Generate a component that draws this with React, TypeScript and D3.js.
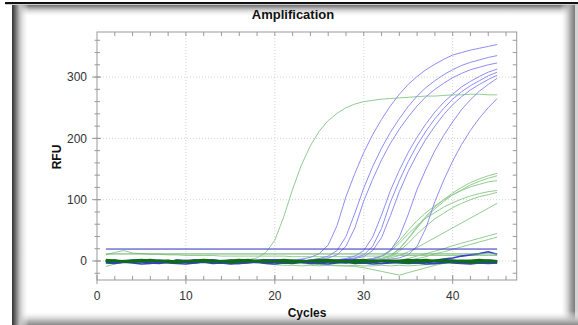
import React from 'react';
import * as d3 from 'd3';

const W = 578;
const H = 325;

const title = 'Amplification';
const xLabel = 'Cycles';
const yLabel = 'RFU';
const xTickLabels = [0, 10, 20, 30, 40];
const yTickLabels = [0, 100, 200, 300];
const xDomain = [0, 47.2];
const yDomain = [-31, 373.5];

const cycles = d3.range(1, 46);

// Blue (channel 1) amplification curves, cycles 1..45
const blue1 = [1,-1,0,2,1,-1,0,1,-2,0,1,0,-1,1,2,0,-1,0,1,-1,0, 2,3,6,12,26,58,105,143,177,206,231,253,272,288,301,312,321,329,336,340,344,347,350,353];
const blue2 = [0,1,-1,-2,0,1,0,-1,1,2,0,-1,0,1,-1,0,2,1,-1,0,1,0,-1, 2,4,8,17,40,78,119,154,184,210,232,252,269,283,294,304,312,319,324,328,332,335];
const blue3 = [-1,0,1,0,-2,-1,1,0,-1,1,0,2,0,-1,1,0,-1,-2,0,1,0,-1,0, 2,3,5,10,24,54,98,133,165,192,215,235,253,268,280,290,299,306,312,316,320,323];
const blue4 = [1,0,-1,1,0,-1,-2,0,1,0,-1,1,2,0,-1,0,1,-1,0,1,2,0,-1,1,0,-1, 2,4,8,17,39,75,115,148,177,202,224,243,259,272,284,293,301,308,313];
const blue5 = [0,-1,1,2,0,-1,0,1,-1,0,1,-2,0,1,0,-1,1,0,-1,2,0,1,-1,0,1,0, 2,3,5,10,24,53,96,131,162,189,212,232,249,264,276,286,294,302,308];
const blue6 = [-1,1,0,-1,0,2,1,-1,0,1,0,-1,-2,0,1,1,0,-1,0,1,-1,0,2,0,-1,1,0, 2,4,7,17,38,74,113,146,174,199,220,239,255,268,279,288,296,303];
const blue7 = [0,1,-1,0,1,-1,2,0,-1,0,1,0,-2,1,0,-1,1,0,2,-1,0,1,-1,0,1,-1,0,1,0, 2,4,8,17,39,76,117,150,180,205,227,247,263,277,288,298];
const blue8 = [1,0,-1,0,2,1,-1,0,1,-1,0,1,0,-2,0,1,-1,0,1,0,-1,1,2,0,-1,0,1,-1,0,1,0, 2,3,5,10,24,54,97,132,163,190,213,233,250,265];

// Green (channel 2) curves
const green1 = [0,1,-1,0,1,0,-1,1,0,-1,0,1,0,-1,1,0, 2,5,14,34,72,117,157,188,212,229,241,250,256,260,262,264,265,266,267,268,269,269,270,271,271,272,272,271,271];
const greenL1 = [0,1,-1,0,1,0,-1,1,0,-1,1,0,-1,0,1,-1,0,1,0,-1,0,1,-1,0,1,0,-1,0,1,0, 2,4,9,20,37,56,73,88,100,111,120,128,134,139,143];
const greenL2 = [1,0,-1,1,0,-1,0,1,-1,0,0,-1,1,0,-1,1,0,-1,0,1,-1,0,1,0,-1,1,0,-1,0,1, 2,4,9,19,36,54,71,85,97,108,116,124,130,135,139];
const greenL3 = [-1,0,1,0,-1,1,0,-1,0,1,-1,0,1,-1,0,1,0,-1,1,0,-1,0,1,0,-1,0,1,-1,0, 2,4,8,18,33,50,66,79,90,100,108,115,121,125,129,131];
const greenL4 = [0,-1,0,1,-1,0,1,0,-1,1,0,-1,0,1,0,-1,1,0,-1,0,1,-1,0,1,0,-1,0,1,0, 2,3,7,16,29,44,58,70,79,88,95,101,106,110,113,115];
const greenL5 = [1,-1,0,1,0,-1,1,0,-1,0,1,0,-1,1,0,-1,0,1,-1,0,1,0,-1,0,1,-1,0,1,0,-1, 2,3,7,16,29,44,57,69,78,87,94,100,105,108,112];
const greenL6 = [0,1,0,-1,1,0,-1,0,1,-1,0,1,0,-1,0,1,-1,0,1,0,-1,0,1,-1,0,1,0,-1,0,1,-1,0, 5,9,15,22,30,38,46,54,62,70,78,86,94];
const greenL7 = [1,0,-1,0,1,-1,0,1,0,-1,0,1,-1,0,1,0,-1,0,1,-1,0,1,0,-1,1,0,-1,0,1,0,-1,1,0,1, 4,8,12,16,20,25,29,33,37,41,45];
const greenL8 = [0,1,-1,0,1,0,-1,1,0,-1,1,0,-1,0,1,-1,0,1,0,0,-1,1,0,-1,0,1,0,-1,1,0,0,1,-1,0,1, 4,7,12,15,19,23,27,31,35,39];
const greenDip1 = [0,-1,1,0,-1,0,1,-1,0,0,-1,1,0,-1,0,1,0,-1,-1,-2, -2,-3,-4,-5,-6,-7,-8,-8,-9,-11,-14,-17,-20,-23,-19,-15,-11,-7,-4,-2,-1,0,-1,0,-1];
const greenDip2 = [1,0,-1,0,1,-1,0,1,0,-1,0,1,0,-1,0,-1,-2, -3,-4,-6,-7,-7,-8,-7,-8,-7,-7,-8,-7,-8,-8,-7,-8,-7,-8,-7,-6,-5,-3,-2,-1,0,1,0,-1];
const greenLow1 = [-9,-5,-2,-1,0,1,0,-1,0,1,0,-1,1,0,-1,0,1,0,-1,0,1,0,-1,0,1,0,-1,1,0,-1,0,1,0,-1,0,1,0,-1,1,0,0,1,-1,0,1];
const greenLow2 = [10,14,17,13,12,11,11,10,10,9,9,9,9,8,8,8,8,8,8,8,8,7,7,7,7,7,7,7,8,8,8,8,8,9,9,9,9,9,9,9,9,9,9,9,9];

// Baseline (negative) wells: blue and dark green
const bandBlue1 = [-1,-3,-2,0,-1,-3,-4,-2,-1,-2,-3,-1,0,-2,-3,-4,-2,-1,-3,-2,0,-1,-2,-4,-3,-1,-2,-3,-1,0,-2,-4,-3,-2,-1,-3,-2,-4,-3,-1,-2,-3,-1,-2,-3];
const bandBlue2 = [1,0,-1,1,2,0,-2,-1,1,0,-1,1,2,0,-1,-2,0,1,2,1,-1,0,1,-1,-2,0,1,2,0,-1,1,0,-2,-1,1,2,0,-1,0,1,-1,-2,0,1,0];
const bandBlue3 = [-3,-4,-2,-3,-5,-4,-2,-3,-4,-5,-3,-2,-4,-3,-5,-4,-3,-2,-4,-5,-3,-4,-2,-3,-4,-5,-3,-2,-4,-3,-5,-4,-2,-3,-4,-3,-5,-4,-2,-3,-4,-5,-3,-4,-3];
const bandBlue4 = [0,1,-1,0,1,2,0,-1,1,0,2,1,0,-1,1,0,-1,0,1,2,1,0,-1,0,1,0,-1,1,2,0,1,0,-1,0,1,0,-1,1,3,5,8,10,12,15,11];
const bandGreen1 = [0,1,-1,0,1,2,0,-1,1,0,-1,1,0,-1,0,1,2,0,-1,0,1,0,-1,1,2,1,0,-1,0,1,-1,0,1,0,-1,1,2,0,-1,0,1,0,-1,1,0];
const bandGreen2 = [-2,-1,0,-2,-1,0,-1,-2,-3,-1,0,-1,-2,-1,-3,-2,0,-1,-2,-1,-2,-3,-1,0,-2,-1,-2,-1,-3,-2,-1,0,-1,-2,-3,-1,-2,0,-1,-2,-1,-3,-2,-1,-2];
const bandGreen3 = [2,1,0,1,2,1,0,1,-1,0,1,2,1,0,1,2,1,0,1,0,2,1,0,-1,1,2,1,0,1,2,0,1,0,1,2,1,0,1,2,1,0,1,2,1,0];
const bandGreen4 = [-1,0,-2,-1,0,-1,1,0,-1,-2,-1,0,-1,0,-2,-1,-1,0,1,-1,-2,-1,0,-1,-1,0,-2,-1,0,-1,-2,0,-1,-1,0,-2,-1,0,-1,-1,-2,0,-1,0,-1];

const thresholdBlue = 19.5;
const thresholdGreen = 11.5;

const blueCurves = [blue1, blue2, blue3, blue4, blue5, blue6, blue7, blue8];
const greenCurves = [green1, greenL1, greenL2, greenL3, greenL4, greenL5, greenL6, greenL7, greenL8, greenDip1, greenDip2, greenLow1, greenLow2];
const bandBlue = [bandBlue1, bandBlue2, bandBlue3, bandBlue4];
const bandGreen = [bandGreen1, bandGreen2, bandGreen3, bandGreen4];

const FONT = "'Liberation Sans', Arial, Helvetica, sans-serif";

export default function App() {
  const x = d3.scaleLinear().domain(xDomain).range([97, 516.7]);
  const y = d3.scaleLinear().domain(yDomain).range([280, 32]);
  const line = d3.line<number>().x((_, i) => x(cycles[i])).y((d) => y(d));

  const x0 = x.range()[0], x1 = x.range()[1];
  const yTop = y.range()[1], yBot = y.range()[0];
  const xMinor = d3.range(2, 47, 2);
  const yMinor = d3.range(-20, 371, 20);
  const axisColor = '#9a9a9a';

  return (
    <svg width={W} height={H} viewBox={`0 0 ${W} ${H}`} style={{ position: 'absolute', left: 0, top: 0, background: '#fff' }}>
      <defs>
        <linearGradient id="gl" x1="0" x2="1" y1="0" y2="0">
          <stop offset="0" stopColor="#333333" />
          <stop offset="0.15" stopColor="#5e5e5e" />
          <stop offset="0.45" stopColor="#c0c0c0" />
          <stop offset="1" stopColor="#ffffff" stopOpacity="0" />
        </linearGradient>
        <linearGradient id="gt" x1="0" x2="0" y1="0" y2="1">
          <stop offset="0" stopColor="#6e6e6e" />
          <stop offset="0.35" stopColor="#c0c0c0" />
          <stop offset="1" stopColor="#ffffff" stopOpacity="0" />
        </linearGradient>
        <linearGradient id="gr" x1="1" x2="0" y1="0" y2="0">
          <stop offset="0" stopColor="#7a7a7a" />
          <stop offset="0.3" stopColor="#a8a8a8" />
          <stop offset="1" stopColor="#ffffff" stopOpacity="0" />
        </linearGradient>
        <linearGradient id="gb" x1="0" x2="0" y1="1" y2="0">
          <stop offset="0" stopColor="#8a8a8a" />
          <stop offset="0.3" stopColor="#b8b8b8" />
          <stop offset="1" stopColor="#ffffff" stopOpacity="0" />
        </linearGradient>
      </defs>
      <rect x={0} y={0} width={W} height={H} fill="#fff" />
      {/* frame */}
      <rect x={5} y={2} width={573} height={2.2} fill="#111" />
      <rect x={12} y={5} width={566} height={12} fill="url(#gt)" />
      <rect x={560} y={5} width={15} height={320} fill="url(#gr)" />
      <rect x={575} y={5} width={3} height={320} fill="#d4d4d4" />
      <rect x={12} y={311} width={566} height={14} fill="url(#gb)" />
      <rect x={12} y={5} width={17} height={320} fill="url(#gl)" />

      {/* title */}
      <text x={293} y={19} textAnchor="middle" fontFamily={FONT} fontSize={13} fontWeight="bold" fill="#111">{title}</text>

      {/* grid */}
      {xTickLabels.filter((t) => t !== 0).map((t) => (
        <line key={'gx' + t} x1={x(t)} x2={x(t)} y1={yTop} y2={yBot} stroke="#d4d4d4" strokeDasharray="1,2" />
      ))}
      {yTickLabels.map((t) => (
        <line key={'gy' + t} x1={x0} x2={x1} y1={y(t)} y2={y(t)} stroke="#d4d4d4" strokeDasharray="1,2" />
      ))}

      {/* curves */}
      {greenCurves.map((c, i) => (
        <path key={'g' + i} d={line(c) || ''} fill="none" stroke="#92cc92" strokeWidth={1} />
      ))}
      {blueCurves.map((c, i) => (
        <path key={'b' + i} d={line(c) || ''} fill="none" stroke="#8e8ef4" strokeWidth={1} />
      ))}
      {bandBlue.map((c, i) => (
        <path key={'bb' + i} d={line(c) || ''} fill="none" stroke="#3a3ad8" strokeWidth={1.6} />
      ))}
      {bandGreen.map((c, i) => (
        <path key={'bg' + i} d={line(c) || ''} fill="none" stroke="#0e6e16" strokeWidth={1.8} />
      ))}
      <line x1={x(1)} x2={x(45)} y1={y(thresholdBlue)} y2={y(thresholdBlue)} stroke="#2c2cc4" strokeWidth={1} />
      <line x1={x(1)} x2={x(45)} y1={y(thresholdGreen)} y2={y(thresholdGreen)} stroke="#6aae6a" strokeWidth={1} />

      {/* axes frame */}
      <rect x={x0} y={yTop} width={x1 - x0} height={yBot - yTop} fill="none" stroke={axisColor} strokeWidth={1} />
      {xMinor.map((t) => (
        <g key={'xm' + t}>
          <line x1={x(t)} x2={x(t)} y1={yBot} y2={yBot - 4} stroke={axisColor} />
          <line x1={x(t)} x2={x(t)} y1={yTop} y2={yTop + 4} stroke={axisColor} />
        </g>
      ))}
      {xTickLabels.map((t) => (
        <line key={'xM' + t} x1={x(t)} x2={x(t)} y1={yBot - 5} y2={yBot + 4} stroke={axisColor} />
      ))}
      {yMinor.map((t) => (
        <g key={'ym' + t}>
          <line x1={x0 - 2.5} x2={x0 + 3} y1={y(t)} y2={y(t)} stroke={axisColor} />
          <line x1={x1} x2={x1 - 4} y1={y(t)} y2={y(t)} stroke={axisColor} />
        </g>
      ))}
      {yTickLabels.map((t) => (
        <line key={'yM' + t} x1={x0 - 5} x2={x0 + 4} y1={y(t)} y2={y(t)} stroke={axisColor} />
      ))}

      {/* tick labels */}
      {xTickLabels.map((t) => (
        <text key={'xl' + t} x={x(t)} y={299.5} textAnchor="middle" fontFamily={FONT} fontSize={12} fill="#333">{t}</text>
      ))}
      {yTickLabels.map((t) => (
        <text key={'yl' + t} x={87} y={y(t) + 4.3} textAnchor="end" fontFamily={FONT} fontSize={12} fill="#333">{t}</text>
      ))}

      {/* axis titles */}
      <text x={307} y={317} textAnchor="middle" fontFamily={FONT} fontSize={12} fontWeight="bold" fill="#111">{xLabel}</text>
      <text transform="translate(61,157) rotate(-90)" textAnchor="middle" fontFamily={FONT} fontSize={12} fontWeight="bold" fill="#111">{yLabel}</text>
    </svg>
  );
}
